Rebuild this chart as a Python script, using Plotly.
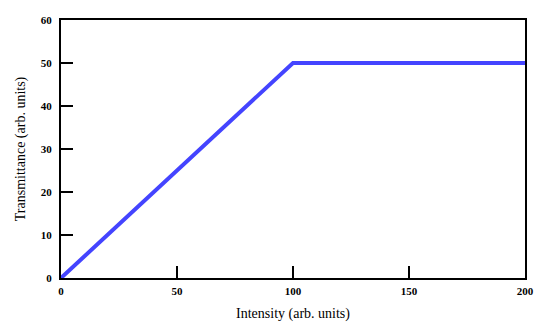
import plotly.graph_objects as go

intensity = [0, 100, 200]
transmittance = [0, 50, 50]
x_ticks = [0, 50, 100, 150, 200]
y_ticks = [0, 10, 20, 30, 40, 50, 60]

fig = go.Figure()
fig.add_trace(go.Scatter(x=intensity, y=transmittance, mode="lines",
                         line=dict(color="#4444ff", width=4), showlegend=False))

axis_common = dict(showgrid=False, zeroline=False, showline=True, linecolor="black",
                   linewidth=2, mirror=True, ticks="inside", ticklen=12, tickwidth=2,
                   tickcolor="black", automargin=False,
                   tickfont=dict(family="Liberation Serif", size=11, color="black", weight="bold"),
                   title_font=dict(family="Liberation Serif", size=14, color="black"))

fig.update_xaxes(range=[0, 200], tickvals=x_ticks, title_text="Intensity (arb. units)",
                 title_standoff=12, ticklabelstandoff=2, **axis_common)
fig.update_yaxes(range=[0, 60], tickvals=y_ticks, title_text="Transmittance (arb. units)",
                 title_standoff=12, ticklabelstandoff=5, **axis_common)

fig.update_layout(width=560, height=328, margin=dict(l=61, r=35, t=20, b=50),
                  plot_bgcolor="white", paper_bgcolor="white")
fig.write_html("out.html")
